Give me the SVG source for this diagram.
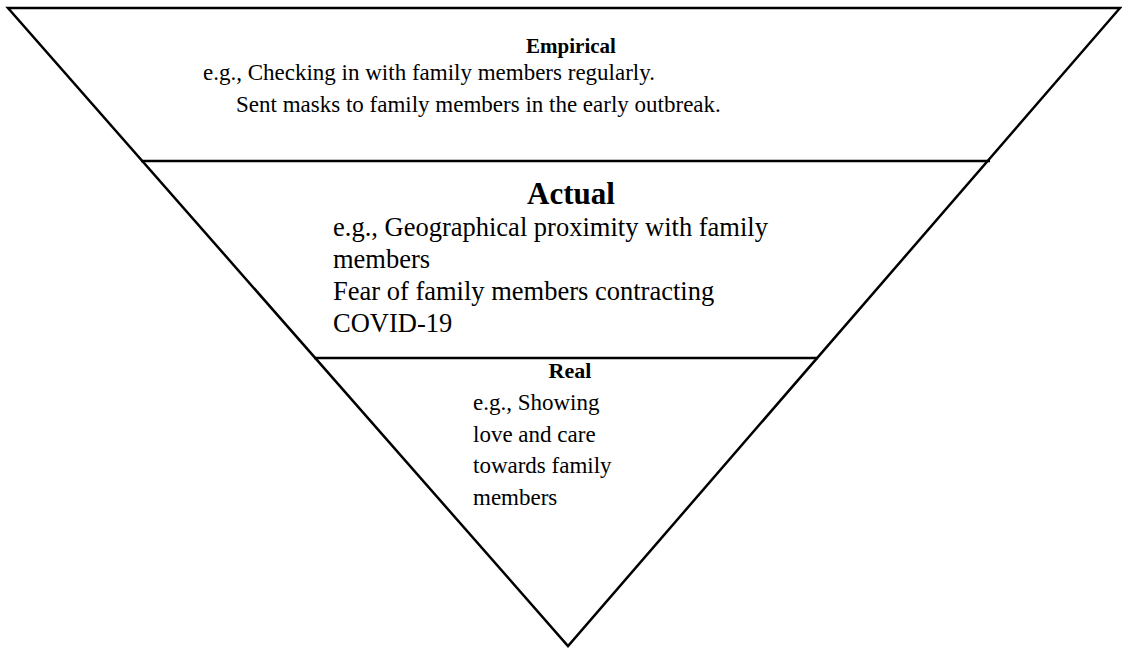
<svg xmlns="http://www.w3.org/2000/svg" width="1122" height="649" viewBox="0 0 1122 649">
<style>
.ln{stroke:#000;stroke-width:2.5;fill:none}
.t{font-family:"Liberation Serif","Times New Roman",serif;font-size:23px;fill:#000}
.ta{font-size:26.5px}
.h{font-family:"Liberation Serif","Times New Roman",serif;font-weight:bold;font-size:21px;fill:#000;text-anchor:middle}
.h2{font-size:31px}
.h3{font-size:22px}
</style>
<rect width="1122" height="649" fill="#fff"/>
<g id="connectors">
<polygon class="ln" points="8,8 1120,8 568,646"/>
<line class="ln" x1="141" y1="161" x2="990" y2="161"/>
<line class="ln" x1="314" y1="358" x2="818" y2="358"/>
</g>
<g id="empirical">
<text class="h" x="571" y="53">Empirical</text>
<text class="t" x="203" y="80">e.g., Checking in with family members regularly.</text>
<text class="t" x="236" y="112">Sent masks to family members in the early outbreak.</text>
</g>
<g id="actual">
<text class="h h2" x="571" y="204">Actual</text>
<text class="t ta" x="333" y="236">e.g., Geographical proximity with family</text>
<text class="t ta" x="333" y="268">members</text>
<text class="t ta" x="333" y="300">Fear of family members contracting</text>
<text class="t ta" x="333" y="332">COVID-19</text>
</g>
<g id="real">
<text class="h h3" x="570" y="378">Real</text>
<text class="t" x="473" y="410">e.g., Showing</text>
<text class="t" x="473" y="442">love and care</text>
<text class="t" x="473" y="473">towards family</text>
<text class="t" x="473" y="505">members</text>
</g>
</svg>
